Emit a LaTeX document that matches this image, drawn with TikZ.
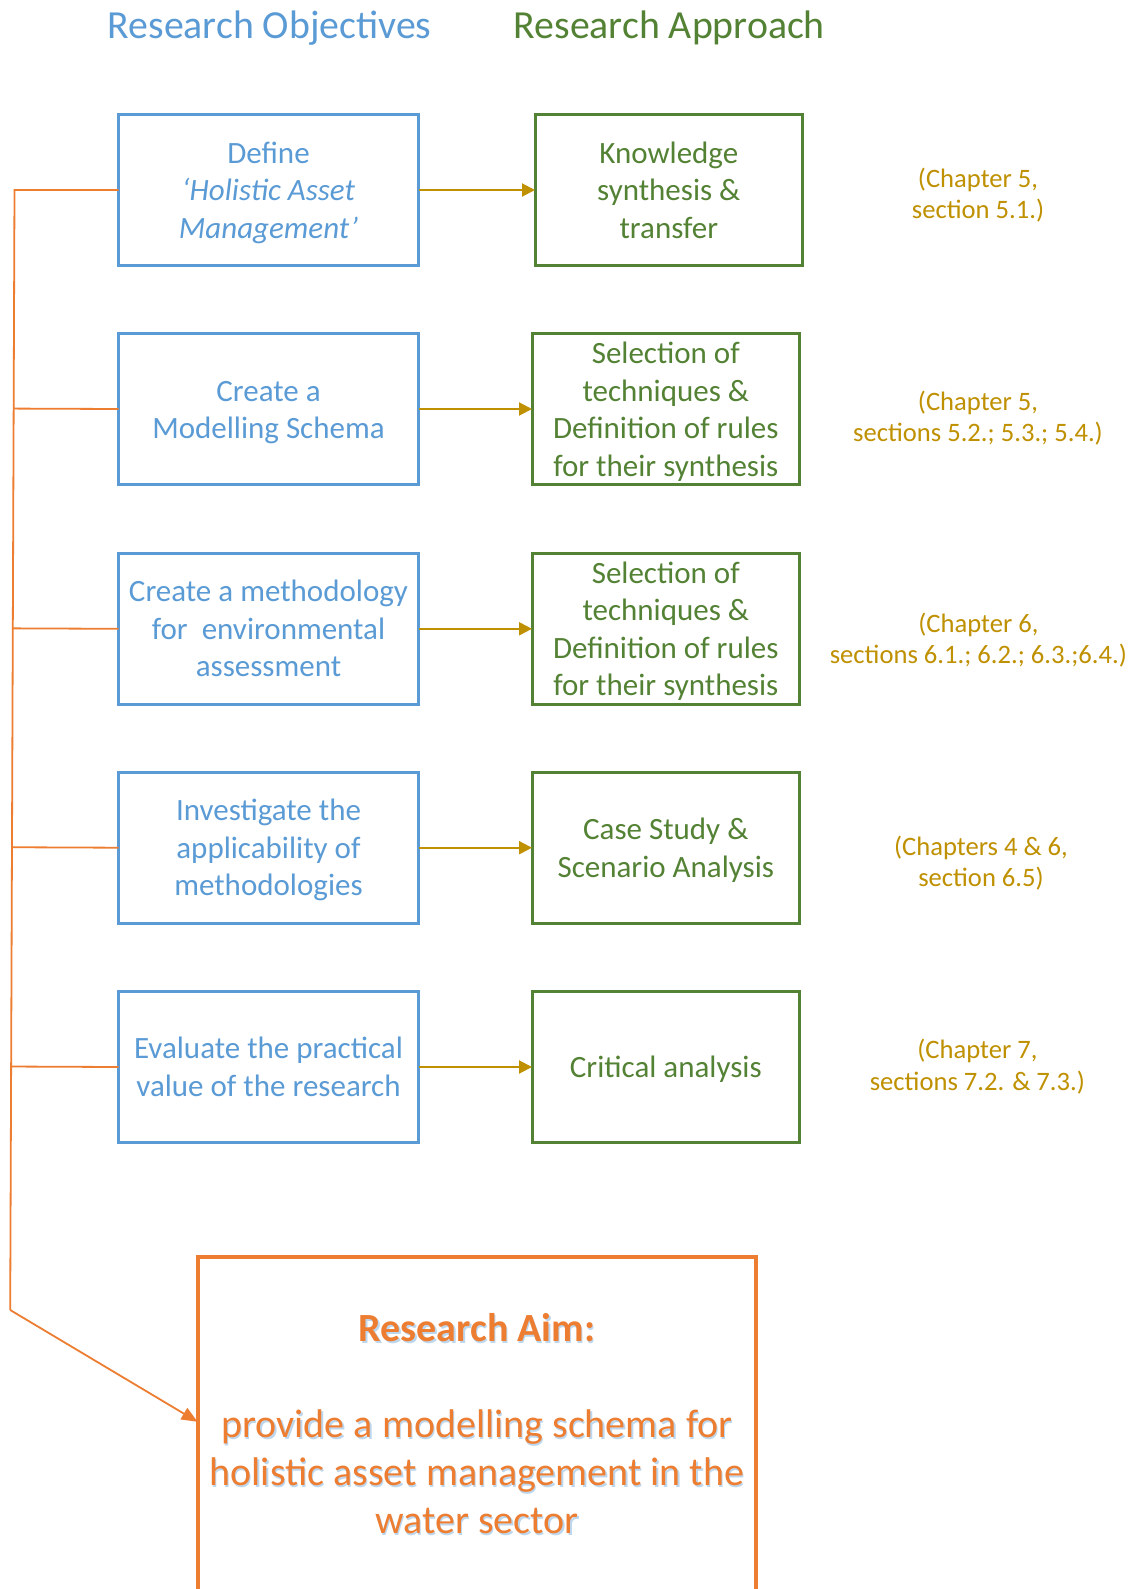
\documentclass[tikz,border=0pt]{standalone}
\usepackage{fontspec}
\setmainfont{Carlito}
\usetikzlibrary{arrows.meta,calc}
\definecolor{objblue}{RGB}{91,155,213}
\definecolor{appgreen}{RGB}{84,130,53}
\definecolor{refgold}{RGB}{191,144,0}
\definecolor{aimorange}{RGB}{237,125,49}
\definecolor{shadowblue}{RGB}{189,215,238}
\newcommand\boxfont{\fontsize{15.5pt}{18.75pt}\selectfont}
\newcommand\headfont{\fontsize{19.9pt}{24pt}\selectfont}
\newcommand\reffont{\fontsize{13.3pt}{15.7pt}\selectfont}
\newcommand\aimfont{\fontsize{20pt}{24pt}\selectfont}
% a line whose descenders do not count when the text is centred
\newcommand\nodepth[1]{\raisebox{0pt}[\height][0pt]{#1}}
\begin{document}
\begin{tikzpicture}[x=0.5pt,y=-0.5pt,
  objbox/.style={draw=objblue, line width=1.5pt, text=objblue,
    minimum width=150pt, minimum height=75.5pt, inner sep=0pt,
    outer sep=0pt, align=center, font=\boxfont},
  appbox/.style={draw=appgreen, line width=1.5pt, text=appgreen,
    minimum width=133.8pt, minimum height=75.5pt, inner sep=0pt,
    outer sep=0pt, align=center, font=\boxfont},
  chapref/.style={text=refgold, align=center, font=\reffont, inner sep=0pt},
  heading/.style={font=\headfont, inner sep=0pt},
  flow/.style={draw=refgold, line width=1pt, -{Triangle[length=6.5pt,width=6.5pt]}},
  link/.style={draw=aimorange, line width=0.9pt},
  aimbox/.style={draw=aimorange, line width=2pt, minimum width=279.2pt,
    minimum height=200pt, inner sep=0pt, outer sep=0pt},
  aimtxt/.style={text=aimorange, align=center, font=\aimfont, inner sep=0pt},
  aimshade/.style={text=shadowblue, align=center, font=\aimfont, inner sep=0pt}
]
\useasboundingbox (0,0) rectangle (1134,1589);
\fill[white] (0,0) rectangle (1134,1589);
\clip (0,0) rectangle (1134,1589);

% column headings
\node[heading, text=objblue] (hobj) at (269.6,28.3) {Research Objectives};
\node[heading, text=appgreen] (happ) at (669.3,28.3) {Research Approach};

% research objectives
\node[objbox] (o1) at (268.5,190) {Define\\\textit{‘Holistic Asset}\\\nodepth{\textit{Management’}}};
\node[objbox] (o2) at (268.5,409) {Create a\vphantom{l}\\\nodepth{Modelling Schema}};
\node[objbox] (o3) at (268.5,628.8) {Create a methodology\\for\ \ environmental\\assessment};
\node[objbox] (o4) at (268.5,847.7) {Investigate the\\applicability of\\\nodepth{methodologies}};
\node[objbox] (o5) at (268.5,1067) {Evaluate the practical\\value of the research};

% research approach
\node[appbox] (a1) at (668.8,190) {Knowledge\\synthesis \&\\transfer};
\node[appbox] (a2) at (665.8,409) {Selection of\\techniques \&\\Definition of rules\\\nodepth{for their synthesis}};
\node[appbox] (a3) at (665.8,628.8) {Selection of\\techniques \&\\Definition of rules\\\nodepth{for their synthesis}};
\node[appbox] (a4) at (665.8,847.7) {Case Study \&\\\nodepth{Scenario Analysis}};
\node[appbox] (a5) at (665.8,1067) {\nodepth{Critical analysis}};

% chapter references
\node[chapref] (c1) at (978,195) {(Chapter 5,\\section 5.1.)};
\node[chapref] (c2) at (978,418) {(Chapter 5,\\sections 5.2.; 5.3.; 5.4.)};
\node[chapref] (c3) at (978.4,640) {(Chapter 6,\\sections 6.1.; 6.2.; 6.3.;6.4.)};
\node[chapref] (c4) at (981,863) {(Chapters 4 \& 6,\\section 6.5)};
\node[chapref] (c5) at (977.4,1066.6) {(Chapter 7,\\sections 7.2. \& 7.3.)};

% objective to approach
\foreach \i in {1,...,5} {\draw[flow] (o\i.east) -- (a\i.west);}

% research aim
\node[aimbox] (aim) at (476.8,1456.6) {};
\node[aimshade] (aimtitleshade) at (478.3,1330) {\textbf{Research Aim:}};
\node[aimtxt] (aimtitle) at (477,1327.5) {\textbf{Research Aim:}};
\node[aimshade] (aimbodyshade) at (478.3,1473.9) {provide a modelling schema for\\holistic asset management in the\\water sector};
\node[aimtxt] (aimbody) at (477,1471.4) {provide a modelling schema for\\holistic asset management in the\\water sector};

% orange spine joining the objectives to the aim
\coordinate (spinetop) at (14.5,190);
\coordinate (spinebot) at (10.2,1310);
\coordinate (aimtip) at ($(aim.north west)+(0,165.2)$);
\draw[link] (o1.west) -- (spinetop) -- (spinebot);
\foreach \i in {2,...,5} {\draw[link] (o\i.west) -- ($(spinetop)!(o\i.west)!(spinebot)$);}
\draw[link, -{Triangle[length=8pt,width=6.5pt]}] (spinebot) -- (aimtip);
\end{tikzpicture}
\end{document}
